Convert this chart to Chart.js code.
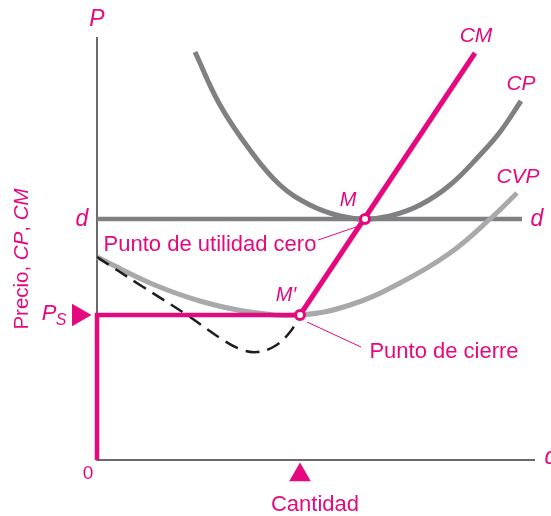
<!DOCTYPE html>
<html>
<head>
<meta charset="utf-8">
<script src="https://cdn.jsdelivr.net/npm/chart.js@4.4.0/dist/chart.umd.min.js"></script>
<style>
  html, body { margin: 0; padding: 0; background: #fff; }
</style>
</head>
<body>
<canvas id="chart" width="551" height="516"></canvas>
<script>
// datos (x = cantidad, y = precio; unidades arbitrarias)
const cpX  = [98, 123, 153, 183, 213, 243, 268, 293, 323, 353, 383, 403, 424];
const cpY  = [408, 355, 310, 275, 255, 244, 241, 244, 255, 275, 305, 328, 359];
const cvpX = [0, 53, 103, 153, 203, 253, 303, 353, 393, 420];
const cvpY = [203, 177, 159, 148, 145, 155, 177, 207, 241, 267];
// parte inferior del costo marginal (discontinua)
const cmLowX = [0, 43, 90, 123, 143, 160, 178, 193, 203];
const cmLowY = [203, 175, 145, 122, 111, 108, 114, 128, 145];
const cmX = [203, 378];
const cmY = [145, 407];
const precioD = 241;      // nivel de la recta d
const precioS = 145;      // precio de cierre P_S
const qCierre = 203;      // cantidad en M'
const qUtilCero = 268;    // cantidad en M
const xEje = 438;         // largo del eje de cantidad
const yEje = 423;         // alto del eje de precio

const MAG = '#e5097f';
const GRIS = '#807f82';
const GRIS_CLARO = '#a9a8ab';
const FUENTE = '"Liberation Sans", Arial, sans-serif';

const pts = (xs, ys) => xs.map((x, i) => ({ x: x, y: ys[i] }));

function linea(data, color, width, order, extra) {
    return Object.assign({
        data: data,
        showLine: true,
        borderColor: color,
        borderWidth: width,
        pointRadius: 0,
        fill: false,
        order: order,
    }, extra || {});
}

// textos del diagrama
const textos = [
    { t: 'P', x: 0, y: 440, it: true, size: 23 },
    { t: 'd', x: -15, y: 240, it: true, size: 23 },
    { t: 'd', x: 440, y: 240, it: true, size: 23 },
    { t: 'P', x: -48, y: 146, it: true, size: 22 },
    { t: 'S', x: -36, y: 139, it: true, size: 16 },
    { t: '0', x: -9, y: -14, size: 19 },
    { t: 'Cantidad', x: 218, y: -45, size: 22 },
    { t: 'q', x: 454, y: 2, it: true, size: 23 },
    { t: 'CM', x: 379, y: 424, it: true, size: 21 },
    { t: 'CP', x: 424, y: 376, it: true, size: 21 },
    { t: 'CVP', x: 421, y: 283, it: true, size: 21 },
    { t: 'M', x: 251, y: 260, it: true, size: 20 },
    { t: 'M\u2032', x: 189, y: 165, it: true, size: 20 },
    { t: 'Punto de utilidad cero', x: 113, y: 215, size: 22 },
    { t: 'Punto de cierre', x: 347, y: 108, size: 22 },
];

const textPlugin = {
    id: 'textos',
    afterDatasetsDraw(chart) {
        const { ctx, scales } = chart;
        ctx.save();
        ctx.fillStyle = MAG;
        ctx.textAlign = 'center';
        ctx.textBaseline = 'middle';
        textos.forEach(l => {
            ctx.font = (l.it ? 'italic ' : '') + l.size + 'px ' + FUENTE;
            ctx.fillText(l.t, scales.x.getPixelForValue(l.x), scales.y.getPixelForValue(l.y));
        });
        // título vertical del eje
        ctx.translate(22, 259);
        ctx.rotate(-Math.PI / 2);
        const partes = [['Precio, ', false], ['CP', true], [', ', false], ['CM', true]];
        let total = 0;
        partes.forEach(p => {
            ctx.font = (p[1] ? 'italic ' : '') + '20.5px ' + FUENTE;
            total += ctx.measureText(p[0]).width;
        });
        let x0 = -total / 2;
        ctx.textAlign = 'left';
        partes.forEach(p => {
            ctx.font = (p[1] ? 'italic ' : '') + '20.5px ' + FUENTE;
            ctx.fillText(p[0], x0, 0);
            x0 += ctx.measureText(p[0]).width;
        });
        ctx.restore();
    }
};

new Chart(document.getElementById('chart'), {
    type: 'scatter',
    data: {
        datasets: [
            // ejes
            linea([{ x: 0, y: yEje }, { x: 0, y: 0 }, { x: xEje, y: 0 }], '#3a3a3a', 1.5, 10),
            // recta d
            linea([{ x: 0, y: precioD }, { x: 425, y: precioD }], GRIS, 4.5, 9),
            // CVP
            linea(pts(cvpX, cvpY), GRIS_CLARO, 5, 8, { tension: 0.4 }),
            // CP
            linea(pts(cpX, cpY), GRIS, 5, 7, { tension: 0.4 }),
            // CM inferior discontinuo
            linea(pts(cmLowX, cmLowY), '#1e1e1e', 2.5, 6, { tension: 0.4, borderDash: [14, 8] }),
            // P_S y tramo vertical
            linea([{ x: qCierre, y: precioS }, { x: 0, y: precioS }, { x: 0, y: 0 }], MAG, 4.5, 5),
            // CM
            linea(pts(cmX, cmY), MAG, 5, 4),
            // líneas guía de las etiquetas
            linea([{ x: 221, y: 220 }, { x: 262, y: 234 }], MAG, 1, 3),
            linea([{ x: 210, y: 138 }, { x: 264, y: 113 }], MAG, 1, 3),
            // puntos M y M'
            {
                data: [{ x: qUtilCero, y: precioD }, { x: qCierre, y: precioS }],
                pointRadius: 4.5,
                pointBorderWidth: 3,
                pointBackgroundColor: '#fff',
                pointBorderColor: MAG,
                order: 1,
            },
            // triángulos en los ejes
            {
                data: [{ x: -18.5, y: precioS }],
                pointStyle: 'triangle',
                rotation: 90,
                pointRadius: 13,
                pointBackgroundColor: MAG,
                pointBorderColor: MAG,
                pointBorderWidth: 0,
                order: 1,
            },
            {
                data: [{ x: qCierre, y: -15 }],
                pointStyle: 'triangle',
                rotation: 0,
                pointRadius: 12.5,
                pointBackgroundColor: MAG,
                pointBorderColor: MAG,
                pointBorderWidth: 0,
                order: 1,
            },
        ]
    },
    options: {
        responsive: false,
        animation: false,
        layout: { padding: 0, autoPadding: false },
        scales: {
            // el área cubre todo el lienzo; el origen queda en (97, 460)
            x: { type: 'linear', min: -97, max: 454, display: false },
            y: { type: 'linear', min: -56, max: 460, display: false },
        },
        plugins: {
            legend: { display: false },
            tooltip: { enabled: false },
        },
        events: [],
    },
    plugins: [textPlugin],
});
</script>
</body>
</html>
